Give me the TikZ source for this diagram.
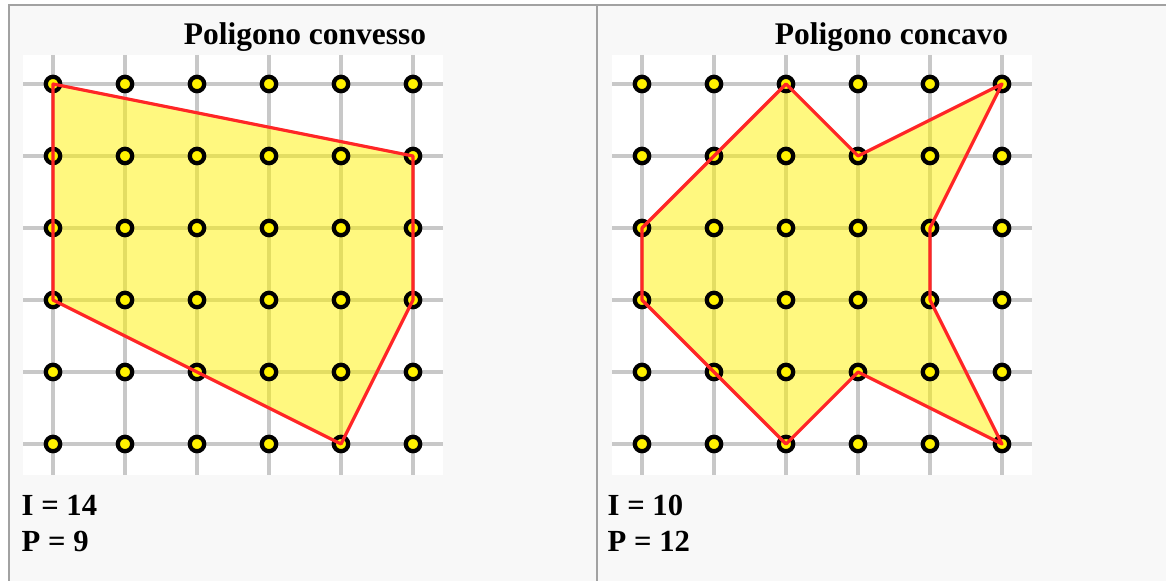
\documentclass[tikz,border=0pt]{standalone}
\usepackage{fontspec}
\setmainfont{Liberation Serif}
\usetikzlibrary{positioning}
\definecolor{cellbg}{HTML}{F8F8F8}
\definecolor{cellrule}{HTML}{A2A2A2}
\definecolor{gridgray}{HTML}{C8C8C8}
\definecolor{polyred}{HTML}{FF2626}

\begin{document}
\begin{tikzpicture}[x=0.75pt, y=-0.75pt,
    lattice/.style={gridgray, line width=2.4pt},
    latticept/.style={fill=yellow, draw=black, line width=3.2pt},
    polyarea/.style={fill=yellow, fill opacity=0.5},
    polyedge/.style={polyred, line width=2.4pt, line join=round},
    heading/.style={font=\fontsize{23.6}{28}\selectfont\bfseries, anchor=base},
    count/.style={font=\fontsize{23}{28}\selectfont\bfseries, anchor=base west}]
  \useasboundingbox (0,0) rectangle (1166,581);
  \fill[white] (0,0) rectangle (1166,581);
  % table cells
  \draw[cellrule, line width=1.5pt, fill=cellbg] (9,5) rectangle (1190,600);
  \draw[cellrule, line width=1.5pt] (597,5) -- (597,600);
  % two lattice boards
  \foreach \ox in {53, 642}
  { \begin{scope}[shift={(\ox,84)}]
      \fill[white] (-30,-29) rectangle (390,391);
      \foreach \i in {0,...,5}
      { \draw[lattice] (\i*72,-29) -- (\i*72,391);
        \draw[lattice] (-30,\i*72) -- (390,\i*72); }
    \end{scope} }
  % convex polygon
  \begin{scope}[shift={(53,84)}]
    \fill[polyarea] (0,0) -- (360,72) -- (360,216) -- (288,360) -- (0,216) -- cycle;
    \foreach \i in {0,...,5} \foreach \j in {0,...,5}
      { \draw[latticept] (\i*72,\j*72) circle (5.4pt); }
    \draw[polyedge] (0,0) -- (360,72) -- (360,216) -- (288,360) -- (0,216) -- cycle;
  \end{scope}
  % concave polygon
  \begin{scope}[shift={(642,84)}]
    \fill[polyarea] (144,0) -- (216,72) -- (360,0) -- (288,144) -- (288,216) -- (360,360)
      -- (216,288) -- (144,360) -- (72,288) -- (0,216) -- (0,144) -- (72,72) -- cycle;
    \foreach \i in {0,...,5} \foreach \j in {0,...,5}
      { \draw[latticept] (\i*72,\j*72) circle (5.4pt); }
    \draw[polyedge] (144,0) -- (216,72) -- (360,0) -- (288,144) -- (288,216) -- (360,360)
      -- (216,288) -- (144,360) -- (72,288) -- (0,216) -- (0,144) -- (72,72) -- cycle;
  \end{scope}
  % labels
  \node[heading] (convtitle) at (305,45) {Poligono convesso};
  \node[heading] (conctitle) at (891.5,45) {Poligono concavo};
  \node[count] (convI) at (17,515) {I = 14};
  \node[count] (convP) at (17,551) {P = 9};
  \node[count] (concI) at (603,515) {I = 10};
  \node[count] (concP) at (603,551) {P = 12};
\end{tikzpicture}
\end{document}
